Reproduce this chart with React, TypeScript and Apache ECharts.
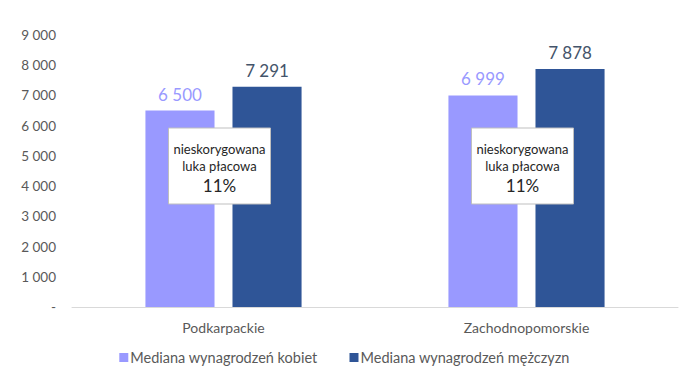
import React, { useEffect, useRef } from "react";
import * as echarts from "echarts";

const categories = ["Podkarpackie", "Zachodnopomorskie"];
const womenValues = [6500, 6999];
const menValues = [7291, 7878];
const gapLabels = ["11%", "11%"];
const seriesNames = ["Mediana wynagrodzeń kobiet", "Mediana wynagrodzeń mężczyzn"];
const boxTitle = ["nieskorygowana", "luka płacowa"];

const FONT = "Lato, 'Open Sans', sans-serif";

const fmt = (v: number) => {
  if (v === 0) return "-";
  const s = String(Math.round(v));
  return s.replace(/\B(?=(\d{3})+(?!\d))/g, " ");
};

export default function App() {
  const ref = useRef<HTMLDivElement>(null);
  useEffect(() => {
    if (!ref.current) return;
    const chart = echarts.init(ref.current, null, { renderer: "svg" });
    chart.setOption({
      animation: false,
      backgroundColor: "#ffffff",
      textStyle: { fontFamily: FONT },
      grid: { left: 72, right: 11, top: 35, bottom: 76 },
      legend: {
        bottom: 13,
        left: "center",
        itemWidth: 9,
        itemHeight: 9,
        itemGap: 32,
        icon: "rect",
        textStyle: { fontFamily: FONT, fontSize: 14.5, color: "#595959", padding: [0, 0, 0, -3] },
        data: seriesNames,
      },
      xAxis: {
        type: "category",
        data: categories,
        axisLine: { show: true, lineStyle: { color: "#d9d9d9", width: 1 } },
        axisTick: { show: false },
        axisLabel: { color: "#595959", fontSize: 14, fontFamily: FONT, margin: 13 },
      },
      yAxis: {
        type: "value",
        min: 0,
        max: 9000,
        interval: 1000,
        splitLine: { show: false },
        axisLine: { show: false },
        axisTick: { show: false },
        axisLabel: { color: "#595959", fontSize: 13.5, fontFamily: FONT, margin: 16, formatter: fmt },
      },
      series: [
        {
          name: seriesNames[0],
          type: "bar",
          data: womenValues,
          barWidth: "22.8%",
          barGap: "26%",
          itemStyle: { color: "#9999FF" },
          label: {
            show: true,
            position: "top",
            distance: 8,
            color: "#9999FF",
            fontSize: 17,
            fontFamily: FONT,
            formatter: (p: any) => fmt(p.value),
          },
        },
        {
          name: seriesNames[1],
          type: "bar",
          data: menValues,
          barWidth: "22.8%",
          barGap: "26%",
          itemStyle: { color: "#2F5597" },
          label: {
            show: true,
            position: "top",
            distance: 8,
            color: "#44546A",
            fontSize: 17,
            fontFamily: FONT,
            formatter: (p: any) => fmt(p.value),
          },
        },
      ],
    });

    const graphics: any[] = [];
    categories.forEach((c, i) => {
      const px = chart.convertToPixel({ gridIndex: 0 }, [i, 4000]) as number[];
      const cx = px[0] - 4;
      const top = 128;
      graphics.push({
        type: "group",
        z: 100,
        children: [
          {
            type: "rect",
            z: 100,
            shape: { x: cx - 51, y: top, width: 102, height: 76 },
            style: { fill: "#ffffff", stroke: "#bfbfbf", lineWidth: 1 },
          },
          {
            type: "text",
            z: 101,
            x: cx,
            y: top + 14,
            style: {
              text: boxTitle[0],
              fill: "#262626",
              font: `13px ${FONT}`,
              align: "center",
              verticalAlign: "top",
            },
          },
          {
            type: "text",
            z: 101,
            x: cx,
            y: top + 31,
            style: {
              text: boxTitle[1],
              fill: "#262626",
              font: `13px ${FONT}`,
              align: "center",
              verticalAlign: "top",
            },
          },
          {
            type: "text",
            z: 101,
            x: cx,
            y: top + 49,
            style: {
              text: gapLabels[i],
              fill: "#262626",
              font: `17px ${FONT}`,
              align: "center",
              verticalAlign: "top",
            },
          },
        ],
      });
    });
    chart.setOption({ graphic: graphics });

    return () => chart.dispose();
  }, []);

  return <div ref={ref} style={{ width: 689, height: 383, position: "absolute", left: 0, top: 0 }} />;
}
